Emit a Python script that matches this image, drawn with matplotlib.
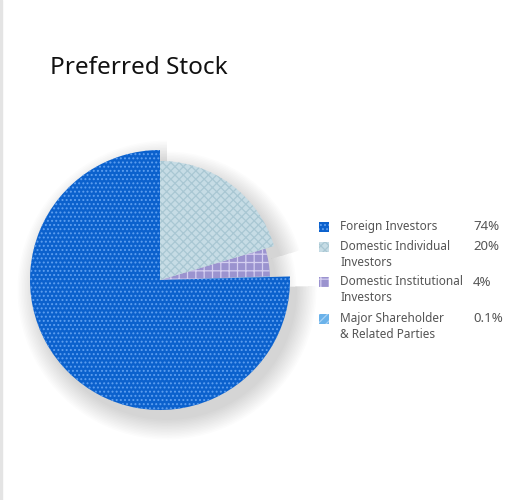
import matplotlib.pyplot as plt
from matplotlib.patches import Rectangle
import matplotlib as mpl

plt.rcParams['font.family'] = ['Noto Sans', 'DejaVu Sans']
mpl.rcParams['hatch.linewidth'] = 0.9

labels = ['Foreign Investors', 'Major Shareholder\n& Related Parties',
          'Domestic Institutional\nInvestors', 'Domestic Individual\nInvestors']
values = [74, 0.1, 4, 20]
pct_labels = ['74%', '0.1%', '4%', '20%']
face_colors = ['#0b61cd', '#6ab2ea', '#9b93cf', '#c6dce5']
hatch_colors = ['#5e9ff0', '#a9d3f5', '#d4cff0', '#a9c7d3']
hatches = ['....', '////', '++', 'xxxx']
radii = [1.30, 1.10, 1.10, 1.19]
legend_order = [0, 3, 2, 1]

fig = plt.figure(figsize=(5.2, 5.0), dpi=100)
fig.patches.append(Rectangle((0, 0), 0.003, 1, transform=fig.transFigure,
                             color='#e4e4e4', zorder=0))

ax = fig.add_axes([10 / 520, 70 / 500, 300 / 520, 300 / 500])
ax.set_aspect('equal')
ax.axis('off')

# soft shadow: same wedges, shifted and faded
for i in range(14):
    sw, _ = ax.pie(values, startangle=90, counterclock=True,
                   center=(0.07, -0.10), radius=1.0,
                   wedgeprops=dict(linewidth=0, facecolor='black', alpha=0.011))
    for j, w in enumerate(sw):
        w.set_radius(radii[j] + 0.015 * i)
        w.set_zorder(1)

wedges, _ = ax.pie(values, startangle=90, counterclock=True, radius=1.0,
                   wedgeprops=dict(linewidth=0))
for i, w in enumerate(wedges):
    w.set_radius(radii[i])
    w.set_facecolor(face_colors[i])
    w.set_edgecolor(hatch_colors[i])
    w.set_hatch(hatches[i])
    w.set_zorder(3 if i == 0 else 2)
ax.set_xlim(-1.5, 1.5)
ax.set_ylim(-1.5, 1.5)

fig.text(50 / 520, 1 - 68 / 500, 'Preferred Stock', fontsize=17.5,
         color='#111111', va='center', ha='left', fontweight='medium')

row_y = [227, 247, 282, 319]
for k, idx in enumerate(legend_order):
    y = row_y[k]
    fig.patches.append(Rectangle((319 / 520, 1 - (y + 5) / 500), 10 / 520, 10 / 500,
                                 transform=fig.transFigure,
                                 facecolor=face_colors[idx],
                                 edgecolor=hatch_colors[idx], lw=0,
                                 hatch=hatches[idx]))
    fig.text(340 / 520, 1 - (y - 7) / 500, labels[idx], fontsize=8.5,
             color='#555555', va='top', ha='left', linespacing=1.3)
    fig.text(473 / 520, 1 - y / 500, pct_labels[idx], fontsize=9.5,
             color='#555555', va='center', ha='left', fontweight='medium')

fig.savefig('out.png', dpi=100)
